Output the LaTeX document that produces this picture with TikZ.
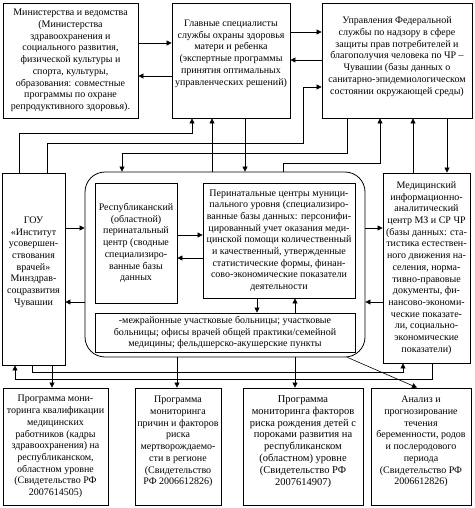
\documentclass[tikz,border=0pt]{standalone}
\usepackage{fontspec}
\setmainfont{Liberation Serif}
\usetikzlibrary{arrows.meta}
\begin{document}
\begin{tikzpicture}[x=1pt,y=-1pt,
  box/.style={draw, line width=0.8pt, align=center, inner sep=1pt, font=\fontsize{10}{11.7}\selectfont},
  ln/.style={line width=0.6pt},
  arr/.style={ln,-{Triangle[length=5pt,width=5pt]}}]
\useasboundingbox (0,0) rectangle (474,508);
% top row
\node[box, minimum width=135, minimum height=115] (A) at (70.5,60.5)
 {Министерства и ведомства\\(Министерства\\здравоохранения и\\социального развития,\\физической культуры и\\спорта, культуры,\\образования: совместные\\программы по охране\\репродуктивного здоровья).};
\node[box, minimum width=118, minimum height=115, text depth=16pt] (B) at (231,60.5)
 {Главные специалисты\\службы охраны здоровья\\матери и ребенка\\(экспертные программы\\принятия оптимальных\\управленческих решений)};
\node[box, minimum width=150, minimum height=115, text depth=10pt] (C) at (397,60.5)
 {Управления Федеральной\\службы по надзору в сфере\\защиты прав потребителей и\\благополучия человека по ЧР –\\Чувашии (базы данных о\\санитарно-эпидемиологическом\\состоянии окружающей среды)};
% middle row
\node[box, minimum width=63, minimum height=192, text depth=16pt] (GOU) at (33.5,269)
 {ГОУ\\«Институт\\усовершен-\\ствования\\врачей»\\Минздрав-\\соцразвития\\Чувашии};
\node[draw, line width=0.8pt, rounded corners=20pt, minimum width=280, minimum height=185] (K) at (225,264.5) {};
\node[box, minimum width=82, minimum height=120] (R) at (136,243)
 {Республиканский\\(областной)\\перинатальный\\центр (сводные\\специализиро-\\ванные базы\\данных};
\node[box, minimum width=152, minimum height=115] (PC) at (279,240.5)
 {Перинатальные центры муници-\\пального уровня (специализиро-\\ванные базы данных: персонифи-\\цированный учет оказания меди-\\цинской помощи количественный\\и качественный, утвержденные\\статистические формы, финан-\\сово-экономические показатели\\деятельности};
\node[box, minimum width=260, minimum height=39] (M) at (225,332.5)
 {-межрайонные участковые больницы; участковые\\больницы; офисы врачей общей практики/семейной\\медицины; фельдшерско-акушерские пункты};
\node[box, minimum width=87, minimum height=190] (Med) at (426.5,268)
 {Медицинский\\информационно-\\аналитический\\центр МЗ и СР ЧР\\(базы данных: ста-\\тистика естествен-\\ного движения на-\\селения, норма-\\тивно-правовые\\документы, фи-\\нансово-экономи-\\ческие показате-\\ли, социально-\\экономические\\показатели)};
% bottom row
\node[box, minimum width=105, minimum height=117] (P1) at (55.5,446.5)
 {Программа мони-\\торинга квалификации\\медицинских\\работников (кадры\\здравоохранения) на\\республиканском,\\областном уровне\\(Свидетельство РФ\\2007614505)};
\node[box, minimum width=86, minimum height=117, text depth=12pt] (P2) at (178,446.5)
 {Программа\\мониторинга\\причин и факторов\\риска\\мертворождаемо-\\сти в регионе\\(Свидетельство\\РФ 2006612826)};
\node[box, minimum width=120, minimum height=117, text depth=12pt, font=\fontsize{10.5}{11.9}\selectfont] (P3) at (303,446.5)
 {Программа\\мониторинга факторов\\риска рождения детей с\\пороками развития на\\республиканском\\(областном) уровне\\(Свидетельство РФ\\2007614907)};
\node[box, minimum width=100, minimum height=117, text depth=12pt] (P4) at (421,446.5)
 {Анализ и\\прогнозирование\\течения\\беременности, родов\\и послеродового\\периода\\(Свидетельство РФ\\2006612826)};
% connectors
\draw[arr] (A.east|-0,43) -- (B.west|-0,43);
\draw[arr] (B.west|-0,76) -- (A.east|-0,76);
\draw[arr] (B.east|-0,32) -- (C.west|-0,32);
\draw[arr] (C.west|-0,60) -- (B.east|-0,60);
\draw[arr] (GOU.north-|47,0) -- (47,143) -- (303,143) -- (303,87) -- (C.west|-0,87);
\draw[arr] (GOU.north-|19,0) -- (19,133) -- (192,133) -- (B.south-|192,0);
\draw[arr] (K.north-|212,0) -- (B.south-|212,0);
\draw[arr] (B.south-|245,0) -- (K.north-|245,0);
\draw[arr] (C.south-|347,0) -- (347,153) -- (122,153) -- (K.north-|122,0);
\draw[arr] (K.north-|283,0) -- (283,163) -- (380,163) -- (C.south-|380,0);
\draw[arr] (Med.north-|413,0) -- (C.south-|413,0);
\draw[arr] (C.south-|447,0) -- (Med.north-|447,0);
\draw[arr] (GOU.east|-0,228) -- (K.west|-0,228);
\draw[arr] (K.west|-0,302) -- (GOU.east|-0,302);
\draw[arr] (K.east|-0,228) -- (Med.west|-0,228);
\draw[arr] (Med.west|-0,302) -- (K.east|-0,302);
\draw[arr] (R.east|-0,235) -- (PC.west|-0,235);
\draw[arr] (PC.west|-0,258) -- (R.east|-0,258);
\draw[arr] (PC.south-|257,0) -- (M.north-|257,0);
\draw[arr] (M.north-|295,0) -- (PC.south-|295,0);
\draw[arr] (GOU.south-|32,0) -- (32,372) -- (403,372) -- (Med.south-|403,0);
\draw[arr] (Med.south-|432,0) -- (432,379) -- (15,379) -- (GOU.south-|15,0);
\draw[arr] (GOU.south-|52,0) -- (P1.north-|52,0);
\draw[arr] (K.south-|177,0) -- (P2.north-|177,0);
\draw[arr] (K.south-|295,0) -- (P3.north-|295,0);
\draw[arr] ([xshift=-18pt]K.south east) -- (P4.north-|417,0);
\end{tikzpicture}
\end{document}
